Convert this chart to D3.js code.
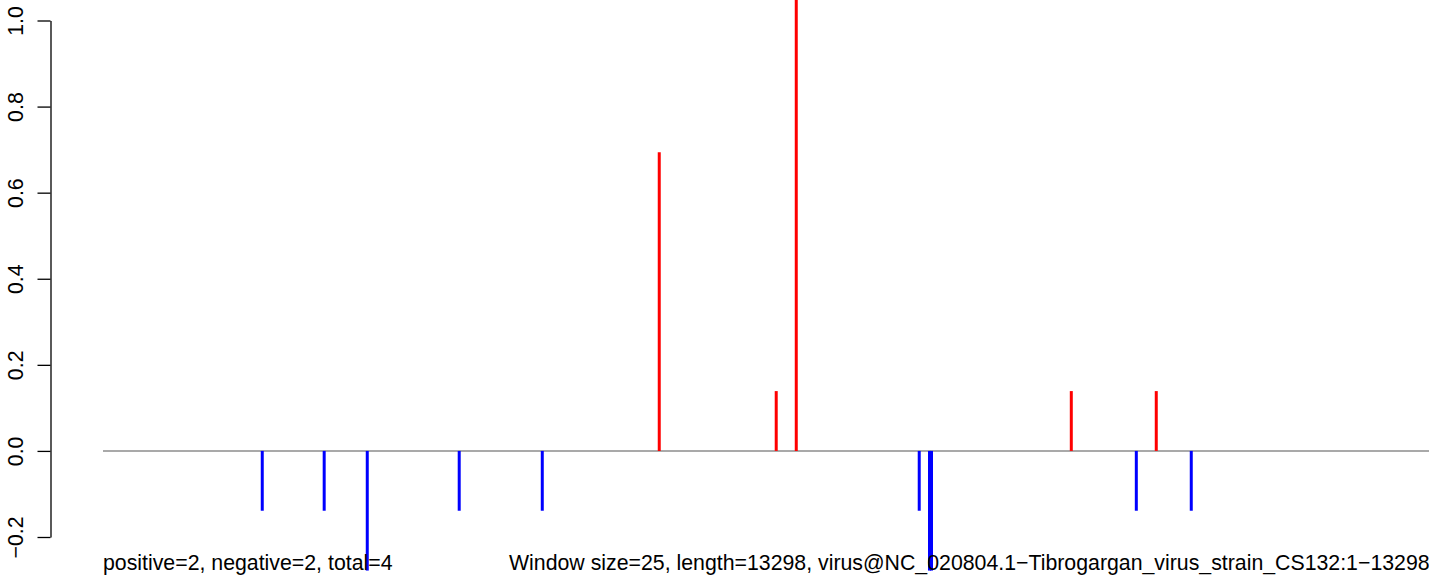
<!DOCTYPE html>
<html>
<head>
<meta charset="utf-8">
<script src="https://cdn.jsdelivr.net/npm/d3@7"></script>
<style>
  html, body { margin: 0; padding: 0; background: #ffffff; }
  svg { display: block; }
  text { font-family: "Liberation Sans", Arial, Helvetica, sans-serif; }
</style>
</head>
<body>
<svg id="chart" width="1429" height="575"></svg>
<script>
// Data: sequence positions (window start) and score values
const positions = [1598, 2219, 2651, 3573, 4406, 5579, 6752, 6953, 8186, 8289, 8309, 9711, 10363, 10563, 10914];
const values    = [-0.139, -0.139, -0.278, -0.139, -0.139, 0.694, 0.139, 1.25, -0.139, -0.278, -0.278, 0.139, -0.139, 0.139, -0.139];
const yTicks = [-0.2, 0.0, 0.2, 0.4, 0.6, 0.8, 1.0];
const seqLength = 13298;
const leftNote = "positive=2, negative=2, total=4";
const rightNote = "Window size=25, length=13298, virus@NC_020804.1\u2212Tibrogargan_virus_strain_CS132:1\u221213298";

const svg = d3.select("#chart");

const x = d3.scaleLinear().domain([1, seqLength]).range([103, 1429]);
const y = d3.scaleLinear().domain([-0.2, 1.0]).range([537, 20.5]);

// Baseline at zero
svg.append("line")
  .attr("x1", x(1)).attr("x2", x(seqLength))
  .attr("y1", y(0)).attr("y2", y(0))
  .attr("stroke", "#a9a9a9").attr("stroke-width", 2);

// Bars
svg.append("g").selectAll("line")
  .data(positions.map((p, i) => ({p, v: values[i]})))
  .join("line")
  .attr("x1", d => x(d.p)).attr("x2", d => x(d.p))
  .attr("y1", y(0)).attr("y2", d => y(d.v))
  .attr("stroke", d => d.v >= 0 ? "#ff0000" : "#0000ff")
  .attr("stroke-width", 3)
  .attr("stroke-linecap", "butt");

// Y axis
const axis = d3.axisLeft(y)
  .tickValues(yTicks)
  .tickSize(13)
  .tickSizeOuter(0)
  .tickFormat(d => d3.format(".1f")(d).replace("-", "\u2212"));

const gAxis = svg.append("g")
  .attr("transform", "translate(50.5,0)")
  .call(axis);
gAxis.select(".domain").attr("stroke", "#000").attr("stroke-width", 1.3);
gAxis.selectAll(".tick line").attr("stroke", "#000").attr("stroke-width", 1.3);
gAxis.selectAll(".tick text")
  .attr("x", null).attr("dy", null)
  .attr("transform", "translate(-28,0) rotate(-90)")
  .attr("text-anchor", "middle")
  .attr("font-size", 21.3)
  .attr("font-family", "Liberation Sans, Arial, sans-serif")
  .attr("fill", "#000");

// Notes at bottom
svg.append("text")
  .attr("x", 103).attr("y", 570)
  .attr("font-size", 21.3)
  .attr("fill", "#000")
  .text(leftNote);
svg.append("text")
  .attr("x", 509).attr("y", 570)
  .attr("font-size", 21.3)
  .attr("fill", "#000")
  .text(rightNote);
</script>
</body>
</html>
